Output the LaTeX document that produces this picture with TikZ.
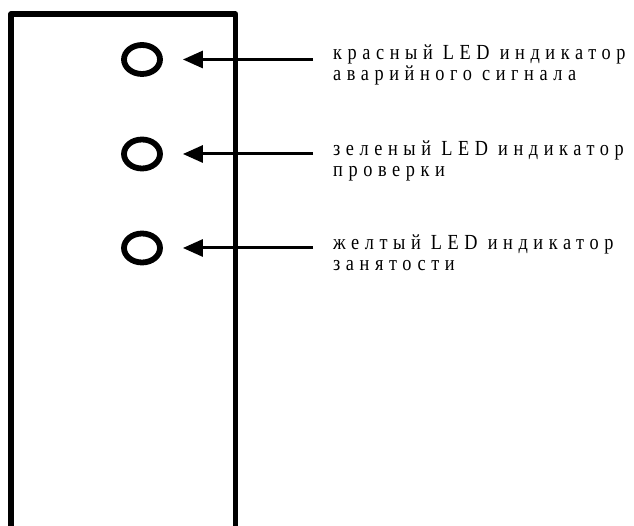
\documentclass[tikz,border=0pt]{standalone}
\usepackage{fontspec}
\setmainfont{Liberation Serif}
\newfontfamily\lblfont[LetterSpace=26,FakeStretch=0.85]{Liberation Serif}
\usetikzlibrary{arrows.meta,shapes.geometric}
\tikzset{
  panel/.style={line width=5.5pt, line join=round, line cap=butt},
  led/.style={ellipse, draw, line width=5.8pt, minimum width=36pt, minimum height=29pt, inner sep=0pt},
  arr/.style={line width=3pt, -{Triangle[length=20pt,width=17pt]}, shorten >=20pt},
  lbl/.style={anchor=base west, inner sep=0pt, align=left, font=\lblfont\fontsize{21.5}{21.5}\selectfont}
}
\begin{document}
\begin{tikzpicture}[x=1pt,y=-1pt]
\useasboundingbox (0,0) rectangle (634,526);
\draw[panel] (11,530) -- (11,14) -- (235.5,14) -- (235.5,530);
\node[led] (led1) at (142,59.5) {};
\node[led] (led2) at (142,154) {};
\node[led] (led3) at (142,248) {};
\node[lbl] (t1) at (333,81) {красный LED индикатор\\аварийного сигнала};
\node[lbl] (t2) at (333,177) {зеленый LED индикатор\\проверки};
\node[lbl] (t3) at (333,271) {желтый LED индикатор\\занятости};
\coordinate (s1) at (313,59.5);
\coordinate (s2) at (313,154);
\coordinate (s3) at (313,248);
\draw[arr] (s1) -- (led1.east);
\draw[arr] (s2) -- (led2.east);
\draw[arr] (s3) -- (led3.east);
\end{tikzpicture}
\end{document}
